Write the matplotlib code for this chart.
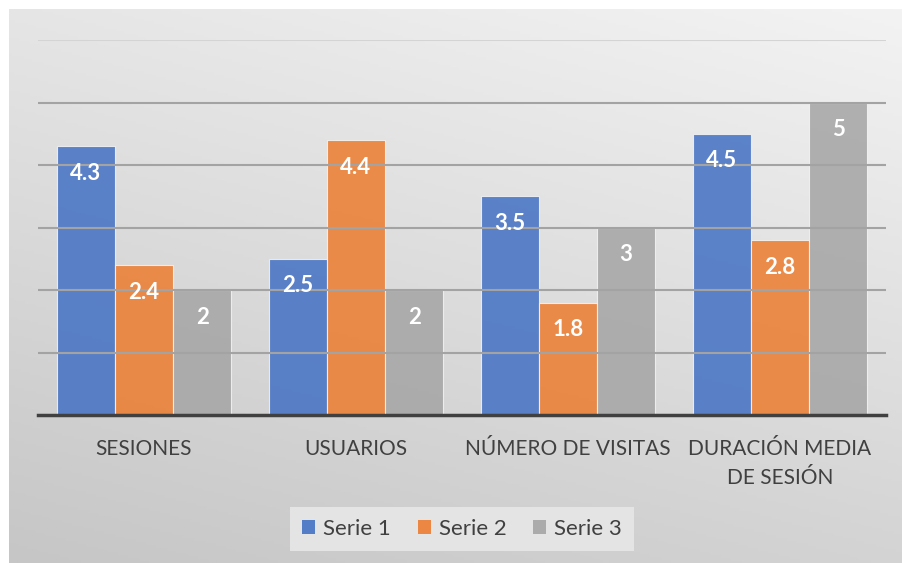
import numpy as np
import matplotlib
matplotlib.use("Agg")
import matplotlib.pyplot as plt
from matplotlib.colors import LinearSegmentedColormap

categories = ["SESIONES", "USUARIOS", "NÚMERO DE VISITAS", "DURACIÓN MEDIA\nDE SESIÓN"]
series_names = ["Serie 1", "Serie 2", "Serie 3"]
serie1 = [4.3, 2.5, 3.5, 4.5]
serie2 = [2.4, 4.4, 1.8, 2.8]
serie3 = [2, 2, 3, 5]
colors = ["#4472C4", "#ED7D31", "#A5A5A5"]

plt.rcParams['font.family'] = ['Lato', 'DejaVu Sans']

W, H = 903, 563
fig = plt.figure(figsize=(W / 100, H / 100), dpi=100)
fig.patch.set_facecolor("white")

# background panel with gradient
bg = fig.add_axes([9 / W, 0, (W - 9) / W, (H - 9) / H])
bg.set_axis_off()
yy, xx = np.mgrid[0:1:200j, 0:1:300j]
val = 0.7 * yy + 0.3 * xx
grad_cmap = LinearSegmentedColormap.from_list("g", ["#c6c6c6", "#f3f3f3"])
bg.imshow(val, cmap=grad_cmap, aspect="auto", origin="lower", extent=[0, 1, 0, 1])
bg.set_xlim(0, 1)
bg.set_ylim(0, 1)

ax = fig.add_axes([38 / W, (H - 415) / H, 848 / W, 375 / H])
ax.patch.set_alpha(0)

x = np.arange(len(categories))
w = 0.274
all_series = [serie1, serie2, serie3]
for i, (vals, c, name) in enumerate(zip(all_series, colors, series_names)):
    bars = ax.bar(x + (i - 1) * w, vals, width=w, color=c, alpha=0.86,
                  edgecolor="#f4f4f4", linewidth=0.8, label=name, zorder=2)
    for rect, v in zip(bars, vals):
        ax.annotate(f"{v:g}", xy=(rect.get_x() + rect.get_width() / 2, rect.get_height()),
                    xytext=(0, -19.5), textcoords="offset points", ha="center", va="center",
                    color="white", fontsize=16, fontweight="bold", zorder=4)

ax.set_xlim(-0.5, len(categories) - 0.5)
ax.set_ylim(0, 6)
ax.set_yticks(np.arange(1, 7))
ax.yaxis.grid(True, color="#a3a3a3", linewidth=1.5, zorder=3)
ax.set_axisbelow(False)
for gl in ax.get_ygridlines():
    gl.set_zorder(1.5)
ax.get_ygridlines()[-1].set_color("#d4d4d4")
ax.tick_params(axis="y", left=False, labelleft=False)
ax.tick_params(axis="x", bottom=False, pad=14, labelsize=15, labelcolor="#404040")
ax.set_xticks(x)
ax.set_xticklabels(categories, linespacing=1.55)
for s in ["top", "right", "left"]:
    ax.spines[s].set_visible(False)
ax.spines["bottom"].set_color("#404040")
ax.spines["bottom"].set_linewidth(2.5)
ax.spines["bottom"].set_zorder(5)

leg = fig.legend(loc="center", bbox_to_anchor=(462 / W, 1 - 529 / H), ncol=3,
                 frameon=True, fancybox=False, facecolor="#e4e4e4", edgecolor="none",
                 framealpha=1, fontsize=16, handlelength=0.6, handleheight=0.6,
                 handletextpad=0.35, columnspacing=1.2, borderpad=0.55)
for t in leg.get_texts():
    t.set_color("#404040")
for h in leg.legend_handles:
    h.set_alpha(0.9)
    h.set_edgecolor("none")

fig.savefig("out.png", dpi=100)
